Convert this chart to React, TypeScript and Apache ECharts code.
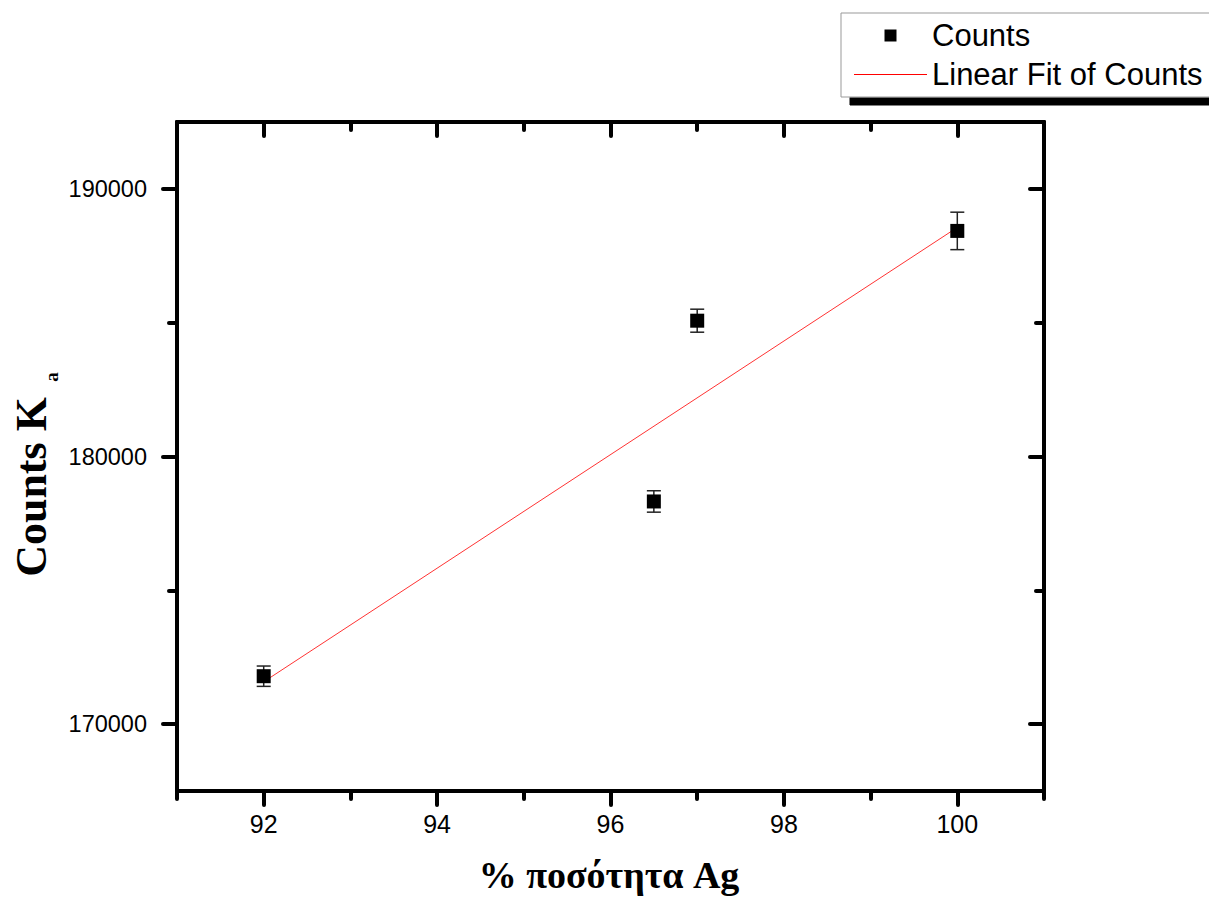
import React, { useEffect, useRef } from 'react';
import * as echarts from 'echarts';

// ---- data ----
const xValues = [92, 96.5, 97, 100];
const counts = [171790, 178320, 185075, 188430];
const countErrors = [380, 400, 430, 700];
const fitX = [92, 100];
const fitY = [171580, 188560];
const xMajorTicks = [92, 94, 96, 98, 100];
const xMinorTicks = [91, 93, 95, 97, 99, 101];
const yMajorTicks = [170000, 180000, 190000];
const yMinorTicks = [175000, 185000];
const xRange = [91, 101];
const yRange = [167500, 192500];
const xTitle = '% ποσότητα Ag';
const yTitleMain = 'Counts K';
const yTitleSub = 'a';
const seriesName = 'Counts';
const fitName = 'Linear Fit of Counts';

const SANS = '"Liberation Sans", Arial, sans-serif';
const SERIF = '"Liberation Serif", "Times New Roman", serif';

function makeAxis(
  kind: 'x' | 'y',
  position: string,
  ticks: number[],
  len: number,
  inside: boolean,
  labels: number[] | null,
  showLine: boolean
) {
  const range = kind === 'x' ? xRange : yRange;
  return {
    type: 'value',
    position,
    min: range[0],
    max: range[1],
    splitLine: { show: false },
    axisLine: { show: showLine, onZero: false, lineStyle: { color: '#000', width: 4 } },
    axisTick: {
      show: true,
      inside,
      length: len,
      customValues: ticks,
      lineStyle: { color: '#000', width: 4, cap: 'round' },
    },
    axisLabel: labels
      ? {
          show: true,
          customValues: labels,
          formatter: (v: number) => String(v),
          color: '#000',
          fontFamily: SANS,
          fontSize: kind === 'x' ? 25 : 23.5,
          margin: kind === 'x' ? 20 : 30,
        }
      : { show: false },
  };
}

export default function App() {
  const ref = useRef<HTMLDivElement>(null);
  useEffect(() => {
    if (!ref.current) return;
    const chart = echarts.init(ref.current, null, { renderer: 'svg' });
    const option: any = {
      animation: false,
      backgroundColor: '#fff',
      grid: { left: 177, top: 122, right: 165, bottom: 112, containLabel: false },
      xAxis: [
        makeAxis('x', 'bottom', xMajorTicks, 14, false, xMajorTicks, true),
        makeAxis('x', 'bottom', xMinorTicks, 8, false, null, false),
        makeAxis('x', 'top', xMajorTicks, 14, true, null, true),
        makeAxis('x', 'top', xMinorTicks, 8, true, null, false),
      ],
      yAxis: [
        makeAxis('y', 'left', yMajorTicks, 14, false, yMajorTicks, true),
        makeAxis('y', 'left', yMinorTicks, 8, false, null, false),
        makeAxis('y', 'right', yMajorTicks, 14, true, null, true),
        makeAxis('y', 'right', yMinorTicks, 8, true, null, false),
      ],
      legend: {
        orient: 'vertical',
        left: 841,
        top: 13,
        align: 'left',
        padding: [7, 40, 7, 13],
        itemGap: 8,
        itemWidth: 73,
        itemHeight: 12,
        backgroundColor: '#fff',
        borderColor: '#999',
        borderWidth: 1,
        shadowColor: '#000',
        shadowBlur: 0,
        shadowOffsetX: 9,
        shadowOffsetY: 8,
        selectedMode: false,
        textStyle: { fontFamily: SANS, fontSize: 31, color: '#000', lineHeight: 30 },
        data: [
          { name: seriesName, icon: 'path://M0,0h10v10h-10z' },
          { name: fitName, icon: 'path://M0,0h100v1.4h-100z' },
        ],
      },
      series: [
        {
          type: 'line',
          name: fitName,
          xAxisIndex: 0,
          yAxisIndex: 0,
          data: fitX.map((x, i) => [x, fitY[i]]),
          symbol: 'none',
          itemStyle: { color: '#ff0000' },
          lineStyle: { color: '#ff3333', width: 1 },
          z: 2,
        },
        {
          type: 'custom',
          name: 'errorbars',
          xAxisIndex: 0,
          yAxisIndex: 0,
          data: xValues.map((x, i) => [x, counts[i] - countErrors[i], counts[i] + countErrors[i]]),
          encode: { x: 0, y: [1, 2] },
          renderItem: (params: any, api: any) => {
            const x = api.value(0);
            const lo = api.value(1);
            const hi = api.value(2);
            const top = api.coord([x, hi]);
            const bot = api.coord([x, lo]);
            const hw = 7;
            const style = { stroke: '#222', lineWidth: 1.5, fill: null };
            return {
              type: 'group',
              children: [
                { type: 'line', shape: { x1: top[0], y1: top[1], x2: bot[0], y2: bot[1] }, style },
                { type: 'line', shape: { x1: top[0] - hw, y1: top[1], x2: top[0] + hw, y2: top[1] }, style },
                { type: 'line', shape: { x1: bot[0] - hw, y1: bot[1], x2: bot[0] + hw, y2: bot[1] }, style },
              ],
            };
          },
          z: 1,
        },
        {
          type: 'scatter',
          name: seriesName,
          xAxisIndex: 0,
          yAxisIndex: 0,
          data: xValues.map((x, i) => [x, counts[i]]),
          symbol: 'rect',
          symbolSize: 14,
          itemStyle: { color: '#000', opacity: 1 },
          z: 3,
        },
      ],
      graphic: [
        {
          type: 'text',
          x: 609,
          y: 875,
          style: {
            text: xTitle,
            fontFamily: SERIF,
            fontWeight: 'bold',
            fontSize: 38,
            fill: '#000',
            align: 'center',
            verticalAlign: 'middle',
          },
        },
        {
          type: 'text',
          x: 31,
          y: 487,
          rotation: Math.PI / 2,
          style: {
            text: yTitleMain,
            fontFamily: SERIF,
            fontWeight: 'bold',
            fontSize: 44,
            fill: '#000',
            align: 'center',
            verticalAlign: 'middle',
          },
        },
        {
          type: 'text',
          x: 51,
          y: 377,
          rotation: Math.PI / 2,
          style: {
            text: yTitleSub,
            fontFamily: SERIF,
            fontWeight: 'bold',
            fontSize: 19,
            fill: '#000',
            align: 'center',
            verticalAlign: 'middle',
          },
        },
      ],
    };
    chart.setOption(option);
    return () => chart.dispose();
  }, []);
  return (
    <div
      ref={ref}
      style={{ position: 'absolute', left: 0, top: 0, width: 1209, height: 903 }}
    />
  );
}
